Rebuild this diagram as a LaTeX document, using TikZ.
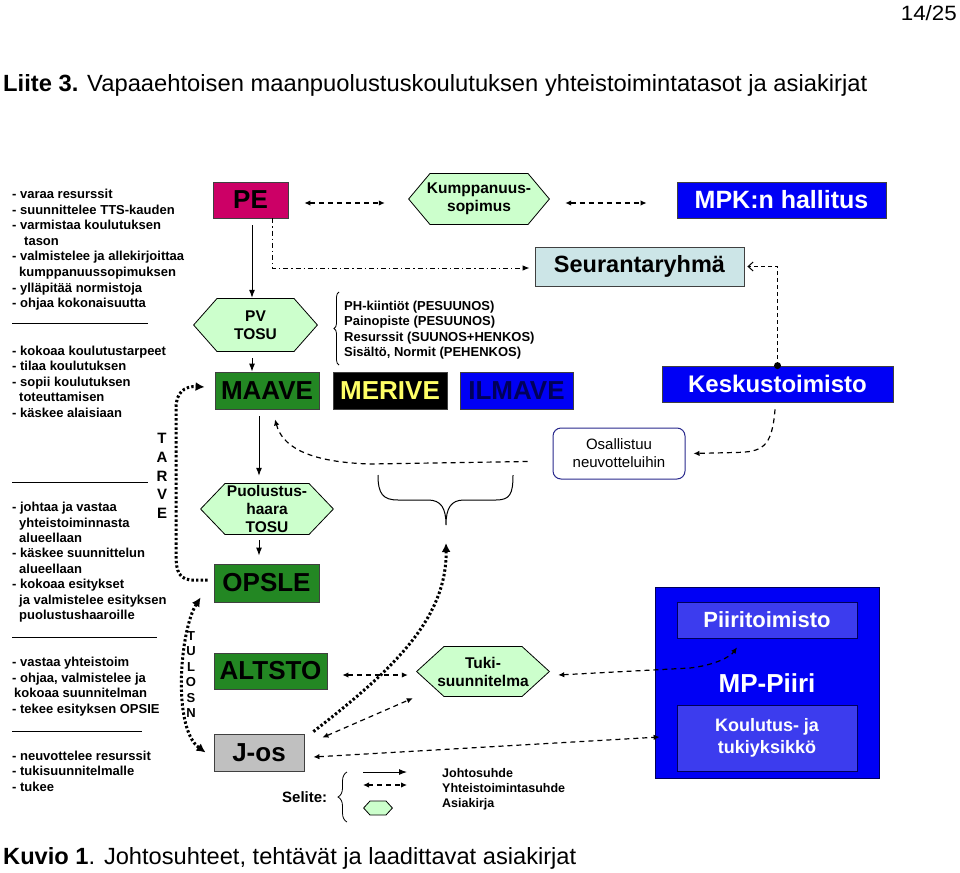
\documentclass[tikz,border=0pt]{standalone}
\usepackage{fontspec}
\setmainfont{Liberation Sans}
\usepackage{graphicx}
\usetikzlibrary{arrows.meta,decorations.pathreplacing,calc}
\definecolor{pemag}{RGB}{204,0,102}
\definecolor{hexg}{RGB}{204,255,204}
\definecolor{mgreen}{RGB}{35,135,35}
\definecolor{seur}{RGB}{204,229,231}
\definecolor{mblue}{RGB}{0,0,245}
\definecolor{iblue}{RGB}{60,60,238}
\definecolor{navy}{RGB}{0,0,90}
\definecolor{myellow}{RGB}{255,255,102}
\definecolor{jgray}{RGB}{192,192,192}
\definecolor{osb}{RGB}{40,40,140}
\begin{document}
\begin{tikzpicture}[x=1pt,y=-1pt,
 box/.style={rectangle,draw=black!75,line width=0.8pt,inner sep=0pt,font=\bfseries\fontsize{26}{30}\selectfont},
 hextip/.store in=\hextip, hextip=24,
 hexa/.style={rectangle,inner sep=0pt,align=center,font=\bfseries\fontsize{15.5}{18}\selectfont,
   path picture={\filldraw[fill=hexg,draw=black,line width=0.8pt]
     ([xshift=0.6]path picture bounding box.west)
     -- ([xshift=\hextip,yshift=-0.5]path picture bounding box.north west)
     -- ([xshift=-\hextip,yshift=-0.5]path picture bounding box.north east)
     -- ([xshift=-0.6]path picture bounding box.east)
     -- ([xshift=-\hextip,yshift=0.5]path picture bounding box.south east)
     -- ([xshift=\hextip,yshift=0.5]path picture bounding box.south west) -- cycle;}},
 lt/.style={anchor=base west,align=left,inner sep=0pt,font=\bfseries\fontsize{13}{15.6}\selectfont},
 ar/.style={line width=1pt,-{Latex[length=8pt,width=6pt]}},
 dsh/.style={line width=1.2pt,dash pattern=on 5pt off 4pt},
 dd/.style={dsh,{Latex[length=6pt,width=5.5pt]}-{Latex[length=6pt,width=5.5pt]}},
 de/.style={dsh,-{Latex[length=6pt,width=5.5pt]}},
 dotl/.style={line width=3pt,dash pattern=on 2.4pt off 2.2pt},
 rulel/.style={line width=0.8pt}
]
\fill[white] (0,0) rectangle (960,872);
\useasboundingbox (0,0) rectangle (960,872);

% header and caption
\node[anchor=base east,inner sep=0pt] (pg) at (957,21) {\resizebox{56pt}{15pt}{14/25}};
\node[anchor=base west,inner sep=0pt] (title) at (3,92) {\resizebox{864pt}{17pt}{\textbf{Liite 3.} Vapaaehtoisen maanpuolustuskoulutuksen yhteistoimintatasot ja asiakirjat}};
\node[anchor=base west,inner sep=0pt] (cap) at (3,864) {\resizebox{573pt}{17pt}{\textbf{Kuvio 1}. Johtosuhteet, tehtävät ja laadittavat asiakirjat}};

% left texts (anchor = baseline of last line)
\node[lt] (t1) at (12,307.7) {- varaa resurssit\\- suunnittelee TTS-kauden\\- varmistaa koulutuksen\\\hspace*{12pt}tason\\- valmistelee ja allekirjoittaa\\\hspace*{7pt}kumppanuussopimuksen\\- ylläpitää normistoja\\- ohjaa kokonaisuutta};
\draw[rulel] (12,323) -- (148,323);
\node[lt] (t2) at (12,417.4) {- kokoaa koulutustarpeet\\- tilaa koulutuksen\\- sopii koulutuksen\\\hspace*{7pt}toteuttamisen\\- käskee alaisiaan};
\draw[rulel] (12,482) -- (148,482);
\node[lt,font=\bfseries\fontsize{13}{15.4}\selectfont] (t3) at (12,619.5) {- johtaa ja vastaa\\\hspace*{7pt}yhteistoiminnasta\\\hspace*{7pt}alueellaan\\- käskee suunnittelun\\\hspace*{7pt}alueellaan\\- kokoaa esitykset\\\hspace*{7pt}ja valmistelee esityksen\\\hspace*{7pt}puolustushaaroille};
\draw[rulel] (12,637) -- (157,637);
\node[lt] (t4) at (12,713.5) {- vastaa yhteistoim\\- ohjaa, valmistelee ja\\\hspace*{2pt}kokoaa suunnitelman\\- tekee esityksen OPSIE};
\draw[rulel] (12,731) -- (142,731);
\node[lt] (t5) at (12,791.5) {- neuvottelee resurssit\\- tukisuunnitelmalle\\- tukee};

\node[anchor=base,align=center,inner sep=0pt,font=\bfseries\fontsize{15}{18.75}\selectfont] (tarve) at (162,518.5) {T\\A\\R\\V\\E};
\node[anchor=base,align=center,inner sep=0pt,font=\bfseries\fontsize{13}{15.4}\selectfont] (tulosn) at (191,717.5) {T\\U\\L\\O\\S\\N};

% main nodes
\node[box,fill=pemag,minimum width=75,minimum height=36] (PE) at (250.5,200) {PE};
\node[hexa,hextip=22,minimum width=142,minimum height=52] (Kump) at (479,199) {Kumppanuus-\\sopimus};
\node[box,fill=mblue,text=white,minimum width=209,minimum height=36,font=\bfseries\fontsize{25}{30}\selectfont] (MPK) at (781.5,200) {MPK:n hallitus};
\node[box,fill=seur,minimum width=209,minimum height=39,font=\bfseries\fontsize{23.5}{28}\selectfont] (Seur) at (639.5,266.5) {Seurantaryhmä};
\node[hexa,minimum width=125,minimum height=54] (PV) at (255.5,325) {PV\\TOSU};
\node[box,fill=mgreen,minimum width=104,minimum height=37] (MAAVE) at (267,390.5) {MAAVE};
\node[box,fill=black,text=myellow,minimum width=114,minimum height=37] (MERIVE) at (390,390.5) {MERIVE};
\node[box,fill=mblue,text=navy,minimum width=113,minimum height=37] (ILMAVE) at (516.5,390.5) {ILMAVE};
\node[box,fill=mblue,text=white,minimum width=231,minimum height=36,font=\bfseries\fontsize{24}{28}\selectfont] (Kesk) at (777.5,384) {Keskustoimisto};
\node[rectangle,rounded corners=8pt,draw=osb,line width=1pt,fill=white,minimum width=132,minimum height=51,align=center,font=\fontsize{15}{18}\selectfont] (Osal) at (619,453.5) {Osallistuu\\neuvotteluihin};
\node[hexa,hextip=25,minimum width=134,minimum height=52] (Puol) at (267,509) {Puolustus-\\haara\\TOSU};
\node[box,fill=mgreen,minimum width=105,minimum height=38] (OPSLE) at (266.5,583) {OPSLE};
\node[box,fill=mgreen,minimum width=113,minimum height=36] (ALTSTO) at (270.5,671) {ALTSTO};
\node[hexa,hextip=28,minimum width=134,minimum height=51] (Tuki) at (483,671.5) {Tuki-\\suunnitelma};
\node[box,fill=jgray,minimum width=90,minimum height=37] (Jos) at (259,752.5) {J-os};
\node[box,fill=mblue,draw=navy,minimum width=224,minimum height=191] (MPP) at (767,682.5) {};
\node[inner sep=0pt,text=white,font=\bfseries\fontsize{26}{30}\selectfont] (mpt) at (767,683) {MP-Piiri};
\node[box,fill=iblue,draw=navy,text=white,minimum width=180,minimum height=36,font=\bfseries\fontsize{22}{26}\selectfont] (Piiri) at (767,620) {Piiritoimisto};
\node[box,fill=iblue,draw=navy,text=white,minimum width=180,minimum height=66,align=center,font=\bfseries\fontsize{18}{22}\selectfont] (Koul) at (767,738) {Koulutus- ja\\tukiyksikkö};

% brace text
\node[lt,font=\bfseries\fontsize{13}{15.5}\selectfont] (btxt) at (344,356.5) {PH-kiintiöt (PESUUNOS)\\Painopiste (PESUUNOS)\\Resurssit (SUUNOS+HENKOS)\\Sisältö, Normit (PEHENKOS)};
\draw[decorate,decoration={brace,amplitude=5pt},line width=0.8pt] (339,365) -- (339,292);

% big brace under services
\coordinate (bt) at (446,525);
\draw[line width=1pt] (378,475) .. controls (378,494) and (383,500) .. (398,500) -- (428,500) .. controls (441,500) and (446,508) .. (bt)
  .. controls (446,508) and (451,500) .. (464,500) -- (496,500) .. controls (510,500) and (513,494) .. (513,475);

% solid arrows
\draw[ar] ($(PE.south)+(1.5,7)$) -- ($(PE.south |- PV.north)+(1.5,0)$);
\draw[ar] ($(PE.south |- PV.south)+(1.5,6)$) -- ($(PE.south |- MAAVE.north)+(1.5,0)$);
\draw[ar] ($(MAAVE.south)+(-8,7)$) -- ($(MAAVE.south |- Puol.north)+(-8,-7)$);
\draw[ar] ($(MAAVE.south |- Puol.south)+(-8,5)$) -- ($(MAAVE.south |- OPSLE.north)+(-8,-8)$);

% dashed cooperation
\draw[dd] ($(PE.east)+(16,3)$) -- ($(Kump.west)+(-23,4)$);
\draw[dd] ($(Kump.east)+(15,4)$) -- ($(MPK.west)+(-30,3)$);
\draw[line width=1pt,dash pattern=on 5pt off 3pt on 1.2pt off 3pt,-{Latex[length=7pt,width=5.5pt]}] ($(PE.south)+(21.5,0)$) |- ($(Seur.west)+(-5,1.5)$);
\draw[line width=1pt,dash pattern=on 4pt off 3pt,-{Straight Barb[length=5pt,width=9pt]}] (Kesk.north) |- ($(Seur.east)+(3,0)$);
\fill (Kesk.north) circle (3.5);
\draw[de] ($(Kesk.south)+(-2.5,7)$) .. controls (772,448) and (762,452) .. (735,452.5) -- ($(Osal.east)+(8,0)$);
\draw[de] ($(Osal.west)+(-25,8)$) -- (370,464) .. controls (305,462) and (282,445) .. ($(MAAVE.south)+(8,10)$);
\draw[dd] ($(ALTSTO.east)+(15,4)$) -- ($(Tuki.west)+(-8,3.5)$);
\draw[dd] ($(Jos.north east)+(18,4)$) -- ($(Tuki.south west)+(-3,1)$);
\draw[dd] ($(Tuki.east)+(8,3.5)$) -- (690,668) .. controls (715,665) and (730,657) .. ($(Piiri.south)+(-30,9)$);
\draw[dd] ($(Jos.east)+(9,4.5)$) -- ($(Koul.west)+(-17,-1)$);

% dotted
\draw[dotl,-{Latex[length=9pt,width=9pt]}] ($(Jos.north east)+(9,-2)$) .. controls (390,672) and (447,620) .. ($(bt)+(0,18)$);
\draw[dotl,-{Latex[length=9pt,width=9pt]}] ($(OPSLE.west)+(-6,-3)$) -- (190,580) .. controls (176,578) and (176,566) .. (176,550) -- (176,408) .. controls (176,393) and (184,386) .. ($(MAAVE.west)+(-10,-3.5)$);
\draw[dotl,{Latex[length=9pt,width=9pt]}-{Latex[length=9pt,width=9pt]}] ($(OPSLE.south west)+(-13,-5)$) .. controls (180,630) and (172,728) .. ($(Jos.west)+(-8,0)$);

% legend
\node[anchor=base west,inner sep=0pt,font=\bfseries\fontsize{15}{18}\selectfont] (sel) at (282,802) {Selite:};
\draw[decorate,decoration={brace,amplitude=9pt},line width=0.8pt] (347,822) -- (347,772);
\coordinate (la1) at (363,772);
\coordinate (lb1) at (407,772);
\coordinate (la2) at (363,785);
\coordinate (lb2) at (407,785);
\draw[ar] (la1) -- (lb1);
\draw[dd] (la2) -- (lb2);
\node[hexa,hextip=7,minimum width=30,minimum height=15] (lh) at (378,808) {};
\node[lt,font=\bfseries\fontsize{12.5}{15}\selectfont] (lgt) at (442,807) {Johtosuhde\\Yhteistoimintasuhde\\Asiakirja};
\end{tikzpicture}
\end{document}
